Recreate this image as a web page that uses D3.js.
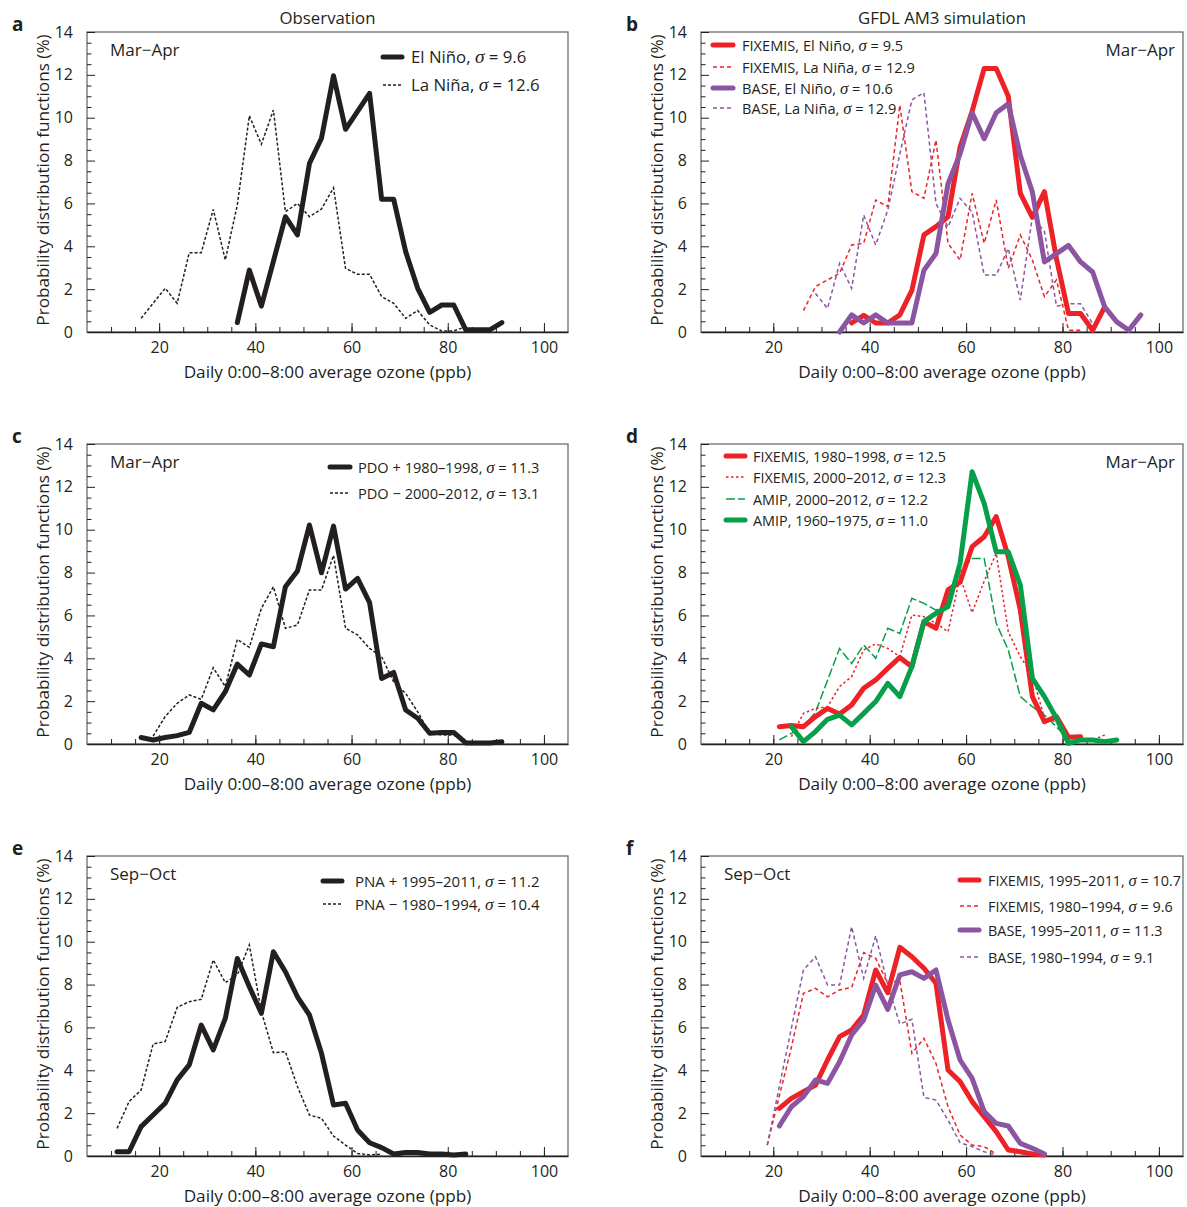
<!DOCTYPE html>
<html><head><meta charset="utf-8">
<script src="https://cdn.jsdelivr.net/npm/d3@7"></script>
<style>
body{margin:0;background:#fff}
svg{display:block}
text{font-family:'Open Sans',sans-serif;fill:#231f20}
</style>
</head><body>
<svg id="chart" width="1187" height="1207"></svg>
<script>
// ---------- DATA ----------
const ozoneBins = [11.25,13.75,16.25,18.75,21.25,23.75,26.25,28.75,31.25,33.75,36.25,38.75,41.25,43.75,46.25,48.75,51.25,53.75,56.25,58.75,61.25,63.75,66.25,68.75,71.25,73.75,76.25,78.75,81.25,83.75,86.25,88.75,91.25,93.75,96.25];
const xTickValues = [20,40,60,80,100];
const yTickValues = [0,2,4,6,8,10,12,14];
const columnTitles = ["Observation","GFDL AM3 simulation"];

// panel a (observation, Mar-Apr)
const aElNino = [0.44,2.89,1.21,3.3,5.38,4.53,7.87,9.04,11.96,9.46,10.3,11.14,6.2,6.2,3.75,2.04,0.92,1.26,1.26,0.1,0.1,0.1,0.44]; // from 36.25
const aLaNina = [0.64,1.34,2.04,1.34,3.7,3.7,5.72,3.36,5.93,10.09,8.76,10.36,5.61,6.0,5.38,5.74,6.73,2.97,2.69,2.69,1.65,1.34,0.64,1.0,0.33,0.05,0.05,0.25]; // from 16.25
// panel b (model, Mar-Apr)
const bFixElNino = [0.42,0.78,0.42,0.42,0.8,1.94,4.53,4.92,5.38,8.63,10.3,12.3,12.3,11.0,6.47,5.35,6.55,3.42,0.86,0.86,0.08,1.17]; // from 36.25
const bFixLaNina = [1.0,2.12,2.43,2.74,4.06,4.14,6.16,5.85,10.59,6.55,6.24,8.96,4.14,3.36,6.47,4.14,6.16,2.97,4.53,3.36,1.65,2.43,0.08,0.08]; // from 26.25
const bBaseElNino = [0.0,0.8,0.42,0.8,0.42,0.42,0.42,2.88,3.66,6.92,8.32,10.23,9.02,10.23,10.65,8.24,6.53,3.27,3.66,4.04,3.27,2.8,1.17,0.47,0.08,0.8]; // from 33.75
const bBaseLaNina = [1.8,1.1,3.2,2.04,5.46,4.06,5.69,8.3,10.83,11.17,6.0,4.9,6.24,5.6,2.66,2.66,3.9,1.49,5.38,4.7,1.2,1.32,1.32,0.39]; // from 28.75
// panel c (observation, PDO)
const cPdoPos = [0.3,0.19,0.3,0.39,0.54,1.9,1.59,2.44,3.73,3.22,4.67,4.54,7.34,8.07,10.22,7.99,10.17,7.23,7.73,6.6,3.06,3.34,1.59,1.2,0.5,0.54,0.54,0.05,0.05,0.05,0.1]; // from 16.25
const cPdoNeg = [0.37,1.28,1.9,2.29,2.08,3.56,2.68,4.88,4.51,6.33,7.34,5.4,5.55,7.19,7.19,8.8,5.4,5.09,4.46,4.07,2.9,2.36,1.5,0.5,0.42,0.42,0.05]; // from 18.75
// panel d (model, PDO)
const dFix8098 = [0.81,0.86,0.81,1.28,1.66,1.4,1.82,2.6,2.99,3.53,4.04,3.61,5.71,5.4,7.19,7.55,9.21,9.67,10.61,8.74,6.25,2.21,1.04,1.28,0.31,0.34]; // from 21.25
const dFix0012 = [0.34,1.43,1.66,1.74,2.68,3.14,4.39,4.67,4.46,4.08,6.02,5.94,5.63,5.24,7.81,6.13,7.6,8.9,5.24,4.07,3.22,1.2,1.04,0.26,0.26,0.19,0.42]; // from 23.75
const dAmip0012 = [0.19,0.5,0.81,1.48,2.97,4.46,3.76,4.62,4.0,5.4,5.16,6.8,6.56,6.25,6.6,8.04,8.66,8.66,5.63,4.39,2.21,1.74,1.35,0.8,0.2]; // from 21.25
const dAmip6075 = [0.81,0.11,0.58,1.15,1.35,0.89,1.43,1.98,2.83,2.21,3.61,5.71,6.1,6.41,8.43,12.71,11.23,8.97,8.97,7.42,3.06,2.21,1.2,0.03,0.19,0.19,0.11,0.19]; // from 23.75
// panel e (observation, PNA)
const ePnaPos = [0.2,0.2,1.37,1.91,2.46,3.55,4.25,6.11,4.95,6.42,9.22,7.9,6.66,9.53,8.6,7.43,6.58,4.79,2.38,2.46,1.21,0.62,0.39,0.09,0.16,0.16,0.09,0.09,0.05,0.09]; // from 11.25
const ePnaNeg = [1.29,2.54,3.08,5.23,5.34,6.94,7.2,7.31,9.15,8.09,8.45,9.85,6.74,4.82,4.87,3.24,1.91,1.76,0.93,0.51,0.12,0.05,0.09]; // from 11.25
// panel f (model, PNA)
const fFix9511 = [2.22,2.69,3.0,3.31,4.48,5.57,5.88,6.58,8.68,7.62,9.74,9.3,8.76,8.06,4.01,3.47,2.54,1.84,1.14,0.28,0.2,0.09,0.05]; // from 21.25
const fBase9511 = [1.4,2.3,2.77,3.55,3.39,4.4,5.65,6.35,7.98,6.84,8.45,8.6,8.29,8.68,6.35,4.48,3.62,2.07,1.52,1.4,0.59,0.36,0.09]; // from 21.25
const fFix8094 = [0.51,2.8,5.07,7.59,7.82,7.43,7.75,7.87,9.49,9.22,8.06,8.2,4.79,5.49,4.32,2.3,0.98,0.51,0.44,0.09]; // from 18.75
const fBase8094 = [0.51,3.24,5.96,8.68,9.3,7.98,7.98,10.7,8.29,10.27,7.98,6.16,6.38,2.74,2.61,1.68,0.62,0.44,0.2,0.05]; // from 18.75

// ---------- STYLES ----------
const BLACK="#231f20", RED="#ed2227", PURPLE="#8b55a2", GREEN="#06a04b";
const thick = c => ({color:c, width:5, dash:null});
const thin = (c,d) => ({color:c, width:1.5, dash:d});

function pts(startBin, vals){
  const i0 = ozoneBins.indexOf(startBin);
  return vals.map((v,i)=>[ozoneBins[i0+i], v]);
}

const cols = [{x0:87,w:481},{x0:701,w:482}];
const rows = [{y0:32},{y0:444},{y0:856}];
const PH = 300;

const panels = [
 {letter:"a", col:0,row:0, season:"Mar\u2212Apr", seasonRight:false,
  legend:{x1:383,x2:402,tx:411,rows:[57,85],fs:16.8},
  series:[
   {lab:["El Niño, ","9.6"], st:thick(BLACK), d:pts(36.25,aElNino), z:2},
   {lab:["La Niña, ","12.6"], st:thin(BLACK,"3,2"), d:pts(16.25,aLaNina), z:1}]},
 {letter:"b", col:1,row:0, season:"Mar\u2212Apr", seasonRight:true,
  legend:{x1:713,x2:733,tx:742,rows:[45,67,88,108],fs:14.6},
  series:[
   {lab:["FIXEMIS, El Niño, ","9.5"], st:thick(RED), d:pts(36.25,bFixElNino), z:3},
   {lab:["FIXEMIS, La Niña, ","12.9"], st:thin(RED,"4,3"), d:pts(26.25,bFixLaNina), z:1},
   {lab:["BASE, El Niño, ","10.6"], st:thick(PURPLE), d:pts(33.75,bBaseElNino), z:4},
   {lab:["BASE, La Niña, ","12.9"], st:thin(PURPLE,"4,3"), d:pts(28.75,bBaseLaNina), z:2}]},
 {letter:"c", col:0,row:1, season:"Mar\u2212Apr", seasonRight:false,
  legend:{x1:330,x2:350,tx:358,rows:[467,493],fs:14.6},
  series:[
   {lab:["PDO + 1980\u20131998, ","11.3"], st:thick(BLACK), d:pts(16.25,cPdoPos), z:2},
   {lab:["PDO \u2212 2000\u20132012, ","13.1"], st:thin(BLACK,"3,2"), d:pts(18.75,cPdoNeg), z:1}]},
 {letter:"d", col:1,row:1, season:"Mar\u2212Apr", seasonRight:true,
  legend:{x1:726,x2:745,tx:753,rows:[456,477,499,520],fs:14.4},
  series:[
   {lab:["FIXEMIS, 1980\u20131998, ","12.5"], st:thick(RED), d:pts(21.25,dFix8098), z:3},
   {lab:["FIXEMIS, 2000\u20132012, ","12.3"], st:thin(RED,"2.5,2.5"), d:pts(23.75,dFix0012), z:2},
   {lab:["AMIP, 2000\u20132012, ","12.2"], st:thin(GREEN,"9,3"), d:pts(21.25,dAmip0012), z:1},
   {lab:["AMIP, 1960\u20131975, ","11.0"], st:thick(GREEN), d:pts(23.75,dAmip6075), z:4}]},
 {letter:"e", col:0,row:2, season:"Sep\u2212Oct", seasonRight:false,
  legend:{x1:323,x2:342,tx:355,rows:[881,904],fs:15},
  series:[
   {lab:["PNA + 1995\u20132011, ","11.2"], st:thick(BLACK), d:pts(11.25,ePnaPos), z:2},
   {lab:["PNA \u2212 1980\u20131994, ","10.4"], st:thin(BLACK,"3,2"), d:pts(11.25,ePnaNeg), z:1}]},
 {letter:"f", col:1,row:2, season:"Sep\u2212Oct", seasonRight:false,
  legend:{x1:960,x2:979,tx:988,rows:[880,906,930,957],fs:14.4},
  series:[
   {lab:["FIXEMIS, 1995\u20132011, ","10.7"], st:thick(RED), d:pts(21.25,fFix9511), z:3},
   {lab:["FIXEMIS, 1980\u20131994, ","9.6"], st:thin(RED,"4,3"), d:pts(18.75,fFix8094), z:1},
   {lab:["BASE, 1995\u20132011, ","11.3"], st:thick(PURPLE), d:pts(21.25,fBase9511), z:4},
   {lab:["BASE, 1980\u20131994, ","9.1"], st:thin(PURPLE,"4,3"), d:pts(18.75,fBase8094), z:2}]}
];

const svg = d3.select("#chart");

// column titles
[0,1].forEach(ci=>{
  svg.append("text").attr("x", cols[ci].x0 + cols[ci].w/2).attr("y", 24)
    .attr("text-anchor","middle").attr("font-size",16.8).text(columnTitles[ci]);
});

panels.forEach(p=>{
  const c = cols[p.col], r = rows[p.row];
  const x = d3.scaleLinear().domain([5,105]).range([c.x0, c.x0 + c.w]);
  const y = d3.scaleLinear().domain([0,14]).range([r.y0 + PH, r.y0]);
  const g = svg.append("g");

  // frame
  g.append("rect").attr("x",c.x0).attr("y",r.y0).attr("width",c.w).attr("height",PH)
    .attr("fill","none").attr("stroke","#6d6e71").attr("stroke-width",1.3);

  // x axis (ticks inward)
  const xMinor = d3.range(10,105,5);
  const xa = g.append("g").attr("transform",`translate(0,${r.y0+PH})`);
  xa.call(d3.axisBottom(x).tickValues(xMinor).tickSize(-5).tickFormat(""));
  xa.call(g2=>g2.selectAll(".domain").remove());
  const xa2 = g.append("g").attr("transform",`translate(0,${r.y0+PH})`)
    .call(d3.axisBottom(x).tickValues(xTickValues).tickSizeInner(-9).tickSizeOuter(0).tickPadding(9.5));
  xa2.select(".domain").attr("stroke",BLACK).attr("stroke-width",1.6);
  xa2.selectAll("text").attr("font-size",16).attr("fill",BLACK).attr("font-family","'Open Sans',sans-serif");

  // y axis
  const ya = g.append("g").attr("transform",`translate(${c.x0},0)`);
  ya.call(d3.axisLeft(y).tickValues(d3.range(0.5,14,1)).tickSize(-4.5).tickFormat(""));
  ya.select(".domain").remove();
  const ya2 = g.append("g").attr("transform",`translate(${c.x0},0)`);
  ya2.call(d3.axisLeft(y).tickValues([1,3,5,7,9,11,13]).tickSizeInner(-4.5).tickSizeOuter(0).tickFormat(()=>""));
  ya2.select(".domain").remove();
  const ya3 = g.append("g").attr("transform",`translate(${c.x0},0)`)
    .call(d3.axisLeft(y).tickValues(yTickValues).tickSizeInner(-8).tickSizeOuter(0).tickPadding(14));
  ya3.select(".domain").remove();
  ya3.selectAll("text").attr("font-size",16).attr("fill",BLACK).attr("font-family","'Open Sans',sans-serif");
  g.selectAll(".tick line").attr("stroke",BLACK).attr("stroke-width",1);

  // axis labels
  g.append("text").attr("x", c.x0 + c.w/2).attr("y", r.y0 + PH + 46)
    .attr("text-anchor","middle").attr("font-size",17.2).text("Daily 0:00\u20138:00 average ozone (ppb)");
  g.append("text").attr("transform",`translate(${c.x0-38},${r.y0+PH/2-2}) rotate(-90)`)
    .attr("text-anchor","middle").attr("font-size",17.2).text("Probability distribution functions (%)");

  // panel letter
  g.append("text").attr("x", c.x0-75).attr("y", r.y0-1).attr("font-size",19).attr("font-weight","bold").text(p.letter);

  // season
  g.append("text").attr("x", p.seasonRight ? c.x0+c.w-8 : c.x0+23).attr("y", r.y0+24)
    .attr("text-anchor", p.seasonRight ? "end":"start").attr("font-size",17).text(p.season);

  // lines
  const line = d3.line().x(d=>x(d[0])).y(d=>y(d[1]));
  p.series.slice().sort((a,b)=>a.z-b.z).forEach(s=>{
    g.append("path").datum(s.d).attr("d",line).attr("fill","none")
      .attr("stroke",s.st.color).attr("stroke-width",s.st.width)
      .attr("stroke-dasharray",s.st.dash)
      .attr("stroke-linejoin", s.st.width>2 ? "round":"miter")
      .attr("stroke-linecap", s.st.width>2 ? "round":"butt");
  });

  // legend
  p.series.forEach((s,i)=>{
    const yy = p.legend.rows[i];
    g.append("line").attr("x1",p.legend.x1).attr("x2",p.legend.x2).attr("y1",yy).attr("y2",yy)
      .attr("stroke",s.st.color).attr("stroke-width",s.st.width).attr("stroke-dasharray",s.st.dash)
      .attr("stroke-linecap", s.st.width>2 ? "round":"butt");
    const t = g.append("text").attr("x",p.legend.tx).attr("y",yy+5.5).attr("font-size",p.legend.fs);
    t.append("tspan").text(s.lab[0]);
    t.append("tspan").attr("font-family","'Liberation Serif',serif").attr("font-style","italic").attr("font-size",p.legend.fs*1.15).text("\u03c3");
    t.append("tspan").text(" = " + s.lab[1]);
  });
});
</script>
</body></html>
